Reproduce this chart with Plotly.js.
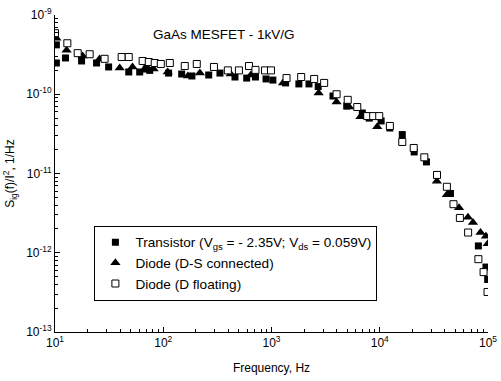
<!DOCTYPE html>
<html>
<head>
<meta charset="utf-8">
<script src="https://cdn.plot.ly/plotly-3.0.1.min.js"></script>
<style>html,body{margin:0;padding:0;background:#fff;}#chart{width:501px;height:381px;}</style>
</head>
<body>
<div id="chart"></div>
<script>
// Transistor (Vgs = -2.35V; Vds = 0.059V) — filled squares
const transFreq = [10.3, 10.3, 12.5, 17.6, 24.2, 31.3, 48, 60.6, 69.6, 75, 112, 148, 184, 263, 334, 460, 590, 711, 890, 1030, 1350, 1790, 2220, 2700, 3700, 4950, 6900, 8000, 10300, 12400, 16150, 20800, 27000, 33800, 45000, 81500, 95700, 99300];
const transS = [4.2e-10, 2.48e-10, 2.87e-10, 2.63e-10, 2.48e-10, 2.21e-10, 1.91e-10, 1.91e-10, 2.08e-10, 2.0e-10, 1.85e-10, 1.8e-10, 1.7e-10, 1.75e-10, 1.85e-10, 1.65e-10, 1.6e-10, 1.65e-10, 1.56e-10, 1.51e-10, 1.39e-10, 1.35e-10, 1.35e-10, 1.25e-10, 9.5e-11, 7.1e-11, 5.8e-11, 5.0e-11, 4.6e-11, 3.75e-11, 3.1e-11, 1.87e-11, 1.4e-11, 9.6e-12, 5.6e-12, 1.22e-12, 6.6e-13, 4.6e-13];

// Diode (D-S connected) — filled triangles
const dsFreq = [10.3, 12.8, 18, 25.8, 39.6, 52, 69.6, 81.5, 110, 169, 218, 420, 645, 1277, 2725, 3993, 5225, 6630, 9480, 33700, 41700, 54000, 65300, 72600, 85300, 95700, 99500];
const dsS = [5.1e-10, 3.6e-10, 3.04e-10, 2.78e-10, 2.14e-10, 2.21e-10, 2.21e-10, 2.08e-10, 1.91e-10, 1.7e-10, 1.85e-10, 1.8e-10, 1.75e-10, 1.39e-10, 1.04e-10, 7.98e-11, 6.9e-11, 5.2e-11, 3.9e-11, 8.0e-12, 5.4e-12, 3.7e-12, 2.8e-12, 2.4e-12, 1.8e-12, 1.62e-12, 1.3e-12];

// Diode (D floating) — open squares
const dfFreq = [10.0, 13.0, 16.2, 20.9, 28.7, 41.3, 48, 64.5, 73.5, 83.4, 94.9, 115, 158, 204, 294, 395, 500, 620, 711, 871, 989, 1377, 1880, 2478, 3065, 3993, 5060, 6200, 7660, 8700, 9890, 12400, 16150, 20600, 25800, 33800, 41700, 48000, 55000, 65500, 81500, 91000, 99000];
const dfS = [5.9e-10, 4.4e-10, 3.3e-10, 3.2e-10, 2.8e-10, 2.95e-10, 2.95e-10, 2.63e-10, 2.55e-10, 2.48e-10, 2.41e-10, 2.48e-10, 2.27e-10, 2.41e-10, 2.21e-10, 2.0e-10, 2.0e-10, 2.27e-10, 2.03e-10, 2.0e-10, 2.0e-10, 1.6e-10, 1.65e-10, 1.56e-10, 1.39e-10, 1.0e-10, 8.5e-11, 6.9e-11, 5.3e-11, 5.3e-11, 5.3e-11, 3.98e-11, 2.5e-11, 2.1e-11, 1.6e-11, 9.6e-12, 6.8e-12, 4.1e-12, 2.75e-12, 1.8e-12, 8.3e-13, 5.7e-13, 3.2e-13];

const xTickVals = [10, 100, 1000, 10000, 100000];
const xTickText = ['10<sup>1</sup>', '10<sup>2</sup>', '10<sup>3</sup>', '10<sup>4</sup>', '10<sup>5</sup>'];
const yTickVals = [1e-13, 1e-12, 1e-11, 1e-10, 1e-9];
const yTickText = ['10<sup>-13</sup>', '10<sup>-12</sup>', '10<sup>-11</sup>', '10<sup>-10</sup>', '10<sup>-9</sup>'];

function minorVals(majors) {
  const out = [];
  for (let i = 0; i < majors.length - 1; i++) {
    for (let k = 2; k <= 9; k++) out.push(majors[i] * k);
  }
  return out;
}

const FONT = 'Liberation Sans, Arial, sans-serif';

const traces = [
  {
    x: transFreq, y: transS, mode: 'markers', type: 'scatter',
    name: 'Transistor (V<sub>gs</sub> = - 2.35V; V<sub>ds</sub> = 0.059V)',
    marker: {symbol: 'square', size: 7, color: '#000', line: {width: 0}}
  },
  {
    x: dsFreq, y: dsS, mode: 'markers', type: 'scatter',
    name: 'Diode (D-S connected)',
    marker: {symbol: 'triangle-up', size: 9, color: '#000', line: {width: 0}}
  },
  {
    x: dfFreq, y: dfS, mode: 'markers', type: 'scatter',
    name: 'Diode (D floating)',
    marker: {symbol: 'square', size: 7, color: '#fff', line: {width: 1, color: '#000'}}
  }
];

const axisCommon = {
  type: 'log', showgrid: false, zeroline: false,
  showline: true, linecolor: '#000', linewidth: 1, mirror: false,
  ticks: 'inside', ticklen: 5, tickwidth: 1, tickcolor: '#000',
  tickmode: 'array',
  tickfont: {family: FONT, size: 12, color: '#000'}
};

const layout = {
  width: 501, height: 381,
  margin: {l: 55, r: 13, t: 15, b: 49},
  paper_bgcolor: '#fff', plot_bgcolor: '#fff',
  font: {family: FONT, color: '#000'},
  showlegend: true,
  legend: {
    x: 0.091, y: 0.335, xanchor: 'left', yanchor: 'top',
    bgcolor: '#fff', bordercolor: '#000', borderwidth: 1,
    font: {family: FONT, size: 13.6, color: '#000'},
    tracegroupgap: 0
  },
  xaxis: Object.assign({}, axisCommon, {
    range: [1, 5],
    tickvals: xTickVals, ticktext: xTickText,
    minor: {tickmode: 'array', tickvals: minorVals(xTickVals), ticks: 'inside', ticklen: 3, tickcolor: '#000', showgrid: false},
    title: {text: 'Frequency, Hz', font: {family: FONT, size: 12, color: '#000'}, standoff: 14}
  }),
  yaxis: Object.assign({}, axisCommon, {
    range: [-13, -9],
    tickvals: yTickVals, ticktext: yTickText,
    minor: {tickmode: 'array', tickvals: minorVals(yTickVals), ticks: 'inside', ticklen: 3, tickcolor: '#000', showgrid: false},
    title: {text: 'S<sub>ig</sub>(f)/I<sup>2</sup>, 1/Hz', font: {family: FONT, size: 12, color: '#000'}, standoff: 8}
  }),
  annotations: [{
    text: 'GaAs MESFET - 1kV/G', xref: 'paper', yref: 'paper',
    x: 0.39, y: 0.94, xanchor: 'center', yanchor: 'middle', showarrow: false,
    font: {family: FONT, size: 13.5, color: '#000'}
  }]
};

Plotly.newPlot('chart', traces, layout, {displayModeBar: false, staticPlot: true});
</script>
</body>
</html>
